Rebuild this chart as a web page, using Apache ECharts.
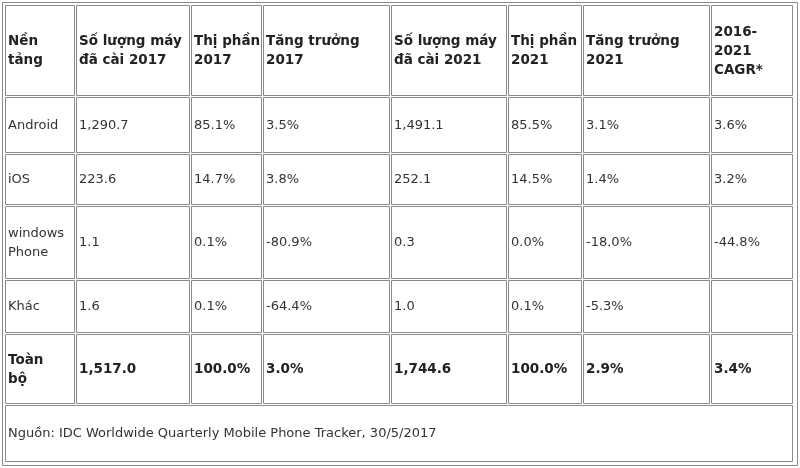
<!DOCTYPE html>
<html>
<head>
<meta charset="utf-8">
<script src="https://cdn.jsdelivr.net/npm/echarts@6/dist/echarts.min.js"></script>
<style>html,body{margin:0;padding:0;background:#fff}#main{width:800px;height:468px}</style>
</head>
<body>
<div id="main"></div>
<script>
// table content
var headers = ['Nền\ntảng', 'Số lượng máy\nđã cài 2017', 'Thị phần\n2017', 'Tăng trưởng\n2017',
  'Số lượng máy\nđã cài 2021', 'Thị phần\n2021', 'Tăng trưởng\n2021', '2016-\n2021\nCAGR*'];
var platforms = ['Android', 'iOS', 'windows\nPhone', 'Khác', 'Toàn\nbộ'];
var installed2017 = ['1,290.7', '223.6', '1.1', '1.6', '1,517.0'];
var share2017 = ['85.1%', '14.7%', '0.1%', '0.1%', '100.0%'];
var growth2017 = ['3.5%', '3.8%', '-80.9%', '-64.4%', '3.0%'];
var installed2021 = ['1,491.1', '252.1', '0.3', '1.0', '1,744.6'];
var share2021 = ['85.5%', '14.5%', '0.0%', '0.1%', '100.0%'];
var growth2021 = ['3.1%', '1.4%', '-18.0%', '-5.3%', '2.9%'];
var cagr = ['3.6%', '3.2%', '-44.8%', '', '3.4%'];
var source = 'Nguồn: IDC Worldwide Quarterly Mobile Phone Tracker, 30/5/2017';

// layout
var colX = [5, 76, 191, 263, 391, 508, 583, 711, 794];
var rowY = [5, 97, 154, 206, 280, 334, 405, 463];

var rows = [headers];
for (var i = 0; i < platforms.length; i++) {
  rows.push([platforms[i], installed2017[i], share2017[i], growth2017[i],
    installed2021[i], share2021[i], growth2021[i], cagr[i]]);
}

var elements = [{
  type: 'rect', shape: {x: 2.5, y: 2.5, width: 795, height: 463},
  style: {fill: 'none', stroke: '#8a8a8a', lineWidth: 1}
}];

function cell(x0, y0, x1, y1, text, bold) {
  elements.push({
    type: 'rect', shape: {x: x0 + 0.5, y: y0 + 0.5, width: x1 - x0 - 2, height: y1 - y0 - 2},
    style: {fill: '#fff', stroke: '#8a8a8a', lineWidth: 1}
  });
  elements.push({
    type: 'text', x: x0 + 3, y: (y0 + y1) / 2,
    style: {
      text: text, fill: bold ? '#222' : '#333', fontFamily: 'DejaVu Sans',
      fontSize: bold ? 13.5 : 13, fontWeight: bold ? 'bold' : 'normal',
      lineHeight: 19, verticalAlign: 'middle', align: 'left'
    }
  });
}

rows.forEach(function(r, ri) {
  var bold = ri === 0 || ri === rows.length - 1;
  r.forEach(function(t, ci) {
    cell(colX[ci], rowY[ri], colX[ci + 1], rowY[ri + 1], t, bold);
  });
});
cell(colX[0], rowY[6], colX[8], rowY[7], source, false);

var chart = echarts.init(document.getElementById('main'));
chart.setOption({graphic: {elements: elements}});
</script>
</body>
</html>
